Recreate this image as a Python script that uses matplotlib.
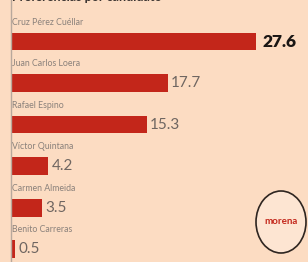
import matplotlib
matplotlib.use('Agg')
import matplotlib.pyplot as plt
from matplotlib.patches import Ellipse

# datos de la encuesta
candidates = ['Cruz Pérez Cuéllar', 'Juan Carlos Loera', 'Rafael Espino',
              'Víctor Quintana', 'Carmen Almeida', 'Benito Carreras']
values = [27.6, 17.7, 15.3, 4.2, 3.5, 0.5]

bg = '#fcdcc2'
red = '#c3261a'

plt.rcParams['font.family'] = ['Lato', 'DejaVu Sans']

fig = plt.figure(figsize=(3.08, 2.62), dpi=100)
fig.patch.set_facecolor(bg)
ax = fig.add_axes([11 / 308, 0, 297 / 308, 1])
ax.set_facecolor(bg)

pos = list(range(len(candidates)))
ax.barh(pos, values, height=0.43, color=red, zorder=2)
ax.set_xlim(0, 33.45)
ax.set_ylim(5.31, -1.0)

for i, (name, v) in enumerate(zip(candidates, values)):
    ax.text(0.1, i - 0.47, name, fontsize=6.3, color='#8a817b', va='center', ha='left')
    if i == 0:
        ax.text(v + 0.7, i, f'{v}', fontsize=12.5, fontweight='heavy', color='#1a1614',
                va='center', ha='left')
    else:
        ax.text(v + 0.35, i, f'{v}', fontsize=11, color='#6f6661',
                va='center', ha='left')

for s in ['top', 'right', 'bottom']:
    ax.spines[s].set_visible(False)
ax.spines['left'].set_color('#b8a89c')
ax.spines['left'].set_linewidth(1)
ax.set_xticks([])
ax.set_yticks([])

# titulo cortado arriba, como en la imagen original
fig.text(12 / 308, 1.013, 'Preferencias por candidato', fontsize=9, fontweight='bold',
         color='#3a3330', va='center', ha='left')

# logo morena
logo = Ellipse((281 / 308, 1 - 222 / 262), 50 / 308, 62 / 262, transform=fig.transFigure,
               facecolor='#fde5d2', edgecolor='#2e2520', linewidth=1.2, zorder=5)
fig.patches.append(logo)
fig.text(281 / 308, 1 - 222 / 262, 'morena', fontsize=7, fontweight='bold', color='#c3261a',
         ha='center', va='center', zorder=6)

fig.savefig('out.png', dpi=100, facecolor=bg)
